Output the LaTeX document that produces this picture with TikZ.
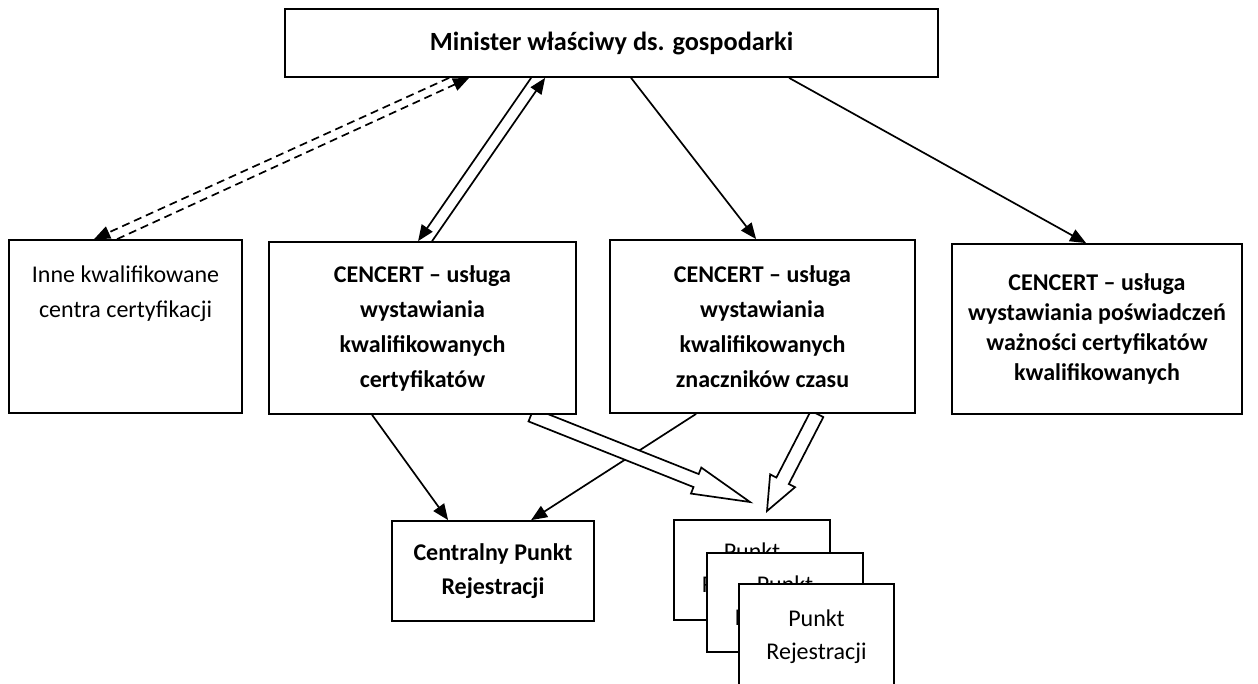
\documentclass[tikz,border=0pt]{standalone}
\usepackage{fontspec}
\setmainfont{Carlito}
\usetikzlibrary{arrows.meta,calc}
\pgfdeclarelayer{bg}
\pgfsetlayers{bg,main}
\tikzset{
  box/.style={draw, line width=1.8pt, fill=white, rectangle, inner sep=0pt, align=center},
  bbox/.style={box, font=\bfseries\fontsize{24}{35}\selectfont},
  rbox/.style={box, font=\fontsize{24}{33}\selectfont},
  arr/.style={line width=1.7pt, -{Triangle[length=16pt,width=13pt]}},
  dsh/.style={arr, dash pattern=on 8pt off 5pt},
  hollow/.style={line width=1.7pt, fill=white, line join=miter}
}
\newcommand{\hollowarrow}[5]{%
  \coordinate (ha-h) at ($(#2)!#5!(#1)$);
  \draw[hollow] ($(#1)!#3!90:(#2)$) -- ($(ha-h)!#3!90:(#2)$) -- ($(ha-h)!#4!90:(#2)$)
    -- (#2) -- ($(ha-h)!#4!-90:(#2)$) -- ($(ha-h)!#3!-90:(#2)$) -- ($(#1)!#3!-90:(#2)$) -- cycle;
}
\begin{document}
\begin{tikzpicture}[x=1pt,y=-1pt]
\useasboundingbox (0,0) rectangle (1258,683);

\node[bbox, font=\bfseries\fontsize{26.3}{32}\selectfont, minimum width=653pt, minimum height=68pt] (min) at (611.5,43) {Minister właściwy ds. gospodarki};
\node[box, minimum width=233pt, minimum height=173pt,
  label={[anchor=north, yshift=-23pt, align=center, font=\fontsize{24}{35}\selectfont]north:Inne kwalifikowane\\centra certyfikacji}] (inne) at (125.5,326.5) {};
\node[bbox, minimum width=307pt, minimum height=172pt] (c1) at (422.5,328) {CENCERT – usługa\\wystawiania\\kwalifikowanych\\certyfikatów};
\node[bbox, minimum width=305pt, minimum height=173pt] (c2) at (762.5,326.5) {CENCERT – usługa\\wystawiania\\kwalifikowanych\\znaczników czasu};
\node[bbox, font=\bfseries\fontsize{24}{30}\selectfont, minimum width=290pt, minimum height=170pt] (c3) at (1097,329) {CENCERT – usługa\\wystawiania poświadczeń\\ważności certyfikatów\\kwalifikowanych};
\node[bbox, font=\bfseries\fontsize{24}{34}\selectfont, minimum width=202pt, minimum height=100pt] (cpr) at (493,571) {Centralny Punkt\\Rejestracji};
\node[rbox, minimum width=156pt, minimum height=100pt] (pa) at (752,570) {Punkt\\Rejestracji};
\node[rbox, minimum width=156pt, minimum height=99pt] (pb) at (785,602.5) {Punkt\\Rejestracji};
\node[rbox, minimum width=155pt, minimum height=105pt] (pc) at (816.5,636.5) {Punkt\\Rejestracji};

\coordinate (t1) at (750,502);
\coordinate (t2) at (767,511);
\coordinate (s1) at ([xshift=263pt]c1.south west);
\coordinate (s2) at ([xshift=208pt]c2.south west);

\begin{pgfonlayer}{bg}
\draw[dsh] ([xshift=165pt]min.south west) -- ([xshift=86pt]inne.north west);
\draw[dsh] ([xshift=109pt]inne.north west) -- ([xshift=185pt]min.south west);
\draw[arr] ([xshift=247pt]min.south west) -- ([xshift=150pt]c1.north west);
\draw[arr] ([xshift=164pt]c1.north west) -- ([xshift=261pt]min.south west);
\draw[arr] ([xshift=347pt]min.south west) -- ([xshift=147pt]c2.north west);
\draw[arr] ([xshift=505pt]min.south west) -- ([xshift=135pt]c3.north west);
\draw[arr] ([xshift=104pt]c1.south west) -- ([xshift=57pt]cpr.north west);
\draw[arr] ([xshift=87pt]c2.south west) -- ([xshift=140pt]cpr.north west);
\hollowarrow{s1}{t1}{7pt}{14pt}{58pt}
\hollowarrow{s2}{t2}{7pt}{14pt}{34pt}
\end{pgfonlayer}
\end{tikzpicture}
\end{document}
